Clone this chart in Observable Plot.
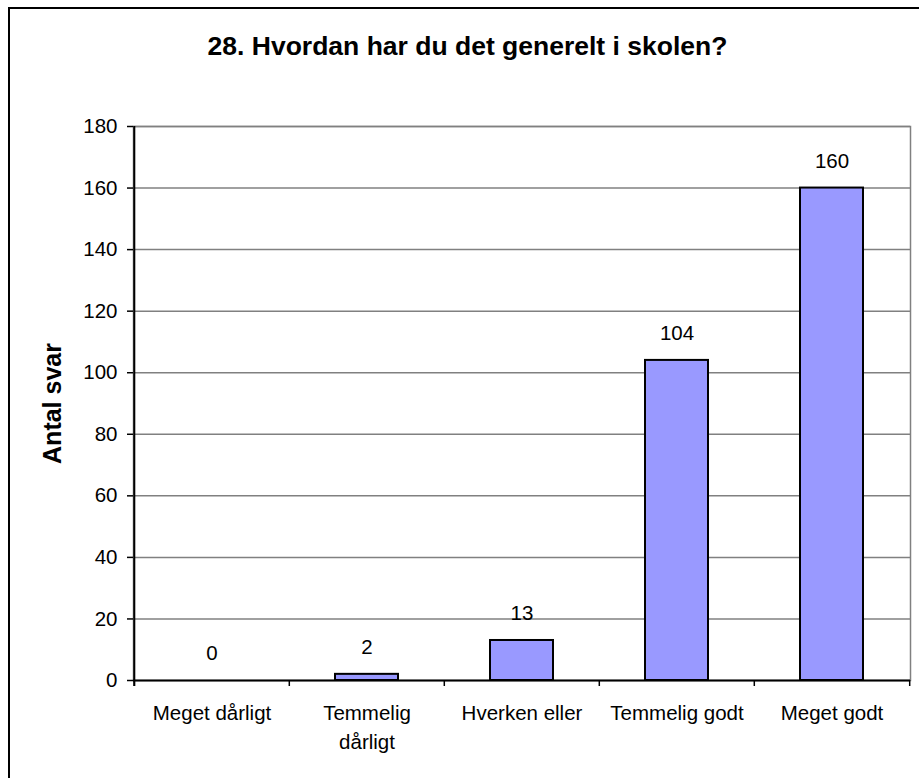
<!DOCTYPE html>
<html>
<head>
<meta charset="utf-8">
<script src="https://cdn.jsdelivr.net/npm/d3@7"></script>
<script src="https://cdn.jsdelivr.net/npm/@observablehq/plot@0.6"></script>
<style>
  html, body { margin: 0; padding: 0; background: #fff; }
  #wrap { position: relative; width: 919px; height: 778px; overflow: hidden; }
  #border { position: absolute; left: 8px; top: 7px; width: 2000px; height: 2000px;
            border-top: 2px solid #000; border-left: 2px solid #000; pointer-events: none; }
</style>
</head>
<body>
<div id="wrap"><div id="border"></div></div>
<script>
const titleText = "28. Hvordan har du det generelt i skolen?";
const yAxisTitle = "Antal svar";
const categories = ["Meget dårligt", "Temmelig dårligt", "Hverken eller", "Temmelig godt", "Meget godt"];
const categoryLabels = ["Meget dårligt", "Temmelig\ndårligt", "Hverken eller", "Temmelig godt", "Meget godt"];
const counts = [0, 2, 13, 104, 160];
const yTicks = [0, 20, 40, 60, 80, 100, 120, 140, 160, 180];

const data = categories.map((c, i) => ({category: c, count: counts[i], label: categoryLabels[i]}));

const W = 919, H = 778;
const mL = 133, mR = 9, mT = 126, mB = 98;
const bw = (W - mL - mR) / categories.length;
const frameH = H - mT - mB;
const font = "'Liberation Sans', Arial, sans-serif";

const chart = Plot.plot({
  width: W,
  height: H,
  marginLeft: mL,
  marginRight: mR,
  marginTop: mT,
  marginBottom: mB,
  style: {fontFamily: font, fontSize: "20px", color: "#000", background: "transparent"},
  x: {domain: categories, padding: 0, axis: null},
  y: {domain: [0, 180], axis: null},
  marks: [
    Plot.frame({stroke: "#808080", strokeWidth: 1.5}),
    Plot.ruleY(yTicks.filter(t => t > 0), {stroke: "#808080", strokeWidth: 1.5}),
    Plot.barY(data, {x: "category", y: "count", fill: "#9999FF", stroke: "#000", strokeWidth: 2, insetLeft: 46, insetRight: 46}),
    Plot.ruleY([0], {stroke: "#000", strokeWidth: 2}),
    // left axis line
    Plot.ruleX([categories[0]], {x: d => d, dx: -bw / 2, stroke: "#000", strokeWidth: 2, insetBottom: -6}),
    // x ticks at category boundaries
    Plot.tickX(data, {x: "category", dx: -bw / 2, dy: 6, insetTop: frameH - 6, stroke: "#000", strokeWidth: 1.5}),
    Plot.tickX([categories[categories.length - 1]], {x: d => d, dx: bw / 2, dy: 6, insetTop: frameH - 6, stroke: "#000", strokeWidth: 1.5}),
    // y axis ticks and labels
    Plot.axisY(yTicks, {tickSize: 6, tickPadding: 10, stroke: "#000", strokeWidth: 1.5, fontSize: 20.5, fill: "#000", label: null}),
    // x category labels
    Plot.text(data, {x: "category", text: "label", frameAnchor: "bottom", dy: 19, lineAnchor: "top", lineHeight: 1.4, fontSize: 20.5, fill: "#000"}),
    // value labels
    Plot.text(data, {x: "category", y: "count", text: d => String(d.count), dy: -27, lineAnchor: "middle", fontSize: 20.5, fill: "#000"}),
    // y axis title
    Plot.text([yAxisTitle], {frameAnchor: "left", dx: -81, rotate: -90, textAnchor: "middle", fontSize: 25, fontWeight: "bold", fill: "#000", lineAnchor: "middle"}),
    // chart title
    Plot.text([titleText], {frameAnchor: "top", dx: (467 - (mL + (W - mR)) / 2), dy: 46 - mT, fontSize: 26.5, fontWeight: "bold", fill: "#000", lineAnchor: "middle"})
  ]
});
document.getElementById("wrap").appendChild(chart);
chart.style.position = "absolute";
chart.style.left = "0px";
chart.style.top = "0px";
</script>
</body>
</html>
